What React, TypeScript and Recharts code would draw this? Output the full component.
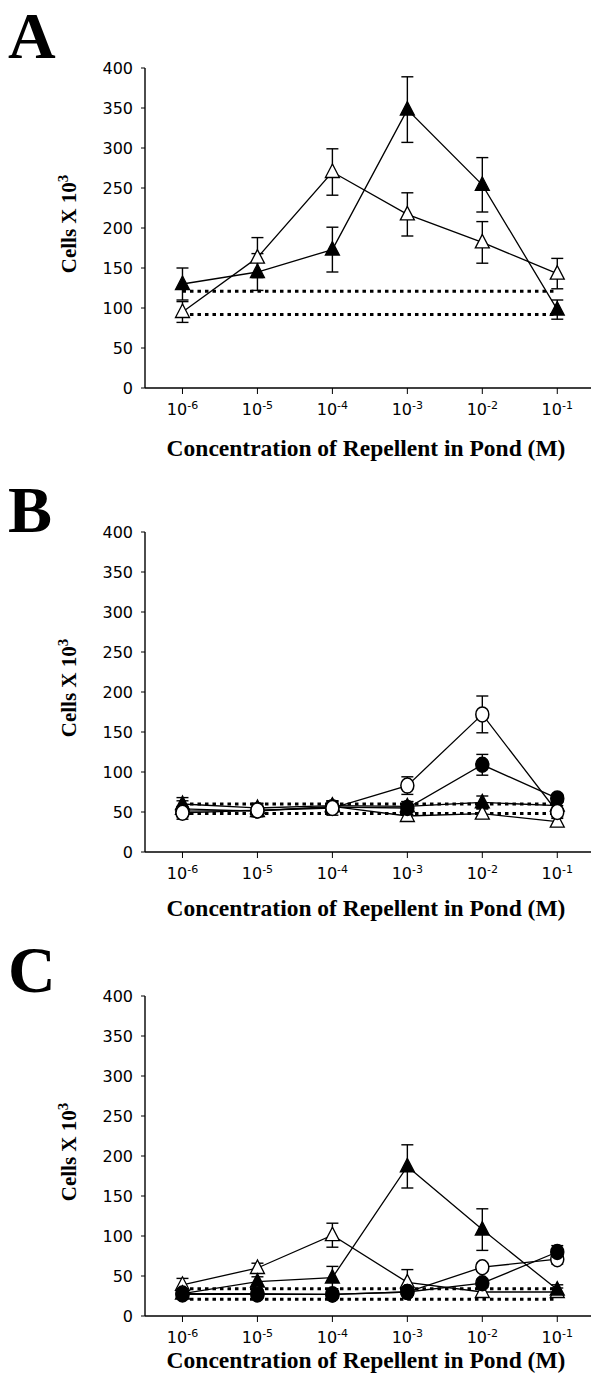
import React from 'react';
import { LineChart, Line, XAxis, YAxis, ErrorBar, ReferenceLine } from 'recharts';

// ---------- data ----------
const exponents = ['-6', '-5', '-4', '-3', '-2', '-1'];
const yTicks = [0, 50, 100, 150, 200, 250, 300, 350, 400];

// Panel A
const aFilledTri = [130, 145, 173, 348, 254, 98];
const aFilledTriErr = [20, 23, 28, 41, 34, 12];
const aOpenTri = [95, 163, 270, 217, 182, 143];
const aOpenTriErr = [13, 25, 29, 27, 26, 19];
const aControls = [121, 92];

// Panel B
const bOpenCircle = [49, 52, 55, 83, 172, 50];
const bOpenCircleErr = [8, 8, 9, 11, 23, 8];
const bFilledCircle = [51, 52, 56, 55, 109, 67];
const bFilledCircleErr = [5, 5, 6, 8, 13, 5];
const bFilledTri = [60, 55, 58, 57, 62, 58];
const bFilledTriErr = [8, 6, 6, 6, 8, 5];
const bOpenTri = [54, 51, 57, 45, 48, 38];
const bOpenTriErr = [10, 6, 6, 6, 6, 6];
const bControls = [60, 48];

// Panel C
const cFilledTri = [28, 43, 48, 187, 108, 33];
const cFilledTriErr = [5, 6, 14, 27, 26, 6];
const cOpenTri = [39, 60, 101, 42, 30, 30];
const cOpenTriErr = [8, 6, 15, 16, 6, 5];
const cOpenCircle = [28, 28, 27, 30, 61, 71];
const cOpenCircleErr = [4, 4, 4, 4, 5, 6];
const cFilledCircle = [27, 27, 27, 30, 41, 80];
const cFilledCircleErr = [3, 3, 3, 3, 5, 8];
const cControls = [34, 21];

// ---------- shapes ----------
type Kind = 'ftri' | 'otri' | 'fcirc' | 'ocirc';

const Marker = (kind: Kind) => (props: any) => {
  const { cx, cy, index } = props;
  const key = `${kind}-${index}`;
  if (cx == null || cy == null) return <g key={key} />;
  if (kind === 'ftri' || kind === 'otri') {
    const pts = `${cx},${cy - 8} ${cx - 7},${cy + 5.5} ${cx + 7},${cy + 5.5}`;
    return (
      <polygon
        key={key}
        points={pts}
        fill={kind === 'ftri' ? '#000' : '#fff'}
        stroke="#000"
        strokeWidth={1.3}
      />
    );
  }
  return (
    <ellipse
      key={key}
      cx={cx}
      cy={cy}
      rx={6.5}
      ry={7.5}
      fill={kind === 'fcirc' ? '#000' : '#fff'}
      stroke="#000"
      strokeWidth={1.5}
    />
  );
};

const sans = 'DejaVu Sans, Arial, sans-serif';
const serif = 'Liberation Serif, Times New Roman, serif';

const XTick = (props: any) => {
  const { x, y, payload } = props;
  const exp = exponents[payload.value - 1];
  return (
    <text x={x} y={y + 19} textAnchor="middle" fontFamily={sans} fontSize={16} fill="#000">
      10
      <tspan dy={-6} fontSize={11}>
        {exp}
      </tspan>
    </text>
  );
};

interface SeriesDef {
  key: string;
  values: number[];
  errs: number[];
  kind: Kind;
}

const W = 591;
const H = 464;
const margin = { top: 68, right: 0, bottom: 0, left: 0 };

function Panel({ series, controls }: { series: SeriesDef[]; controls: number[] }) {
  const rows = exponents.map((_, i) => {
    const r: any = { x: i + 1 };
    series.forEach((s) => {
      r[s.key] = s.values[i];
      r[s.key + 'Err'] = s.errs[i];
    });
    return r;
  });
  return (
    <LineChart width={W} height={H} data={rows} margin={margin}>
      <XAxis
        type="number"
        dataKey="x"
        domain={[0.5, 6.45]}
        ticks={[1, 2, 3, 4, 5, 6]}
        allowDataOverflow
        axisLine={{ stroke: '#000', strokeWidth: 1.4 }}
        tickLine={{ stroke: '#000', strokeWidth: 1 }}
        tickSize={6}
        tick={<XTick />}
        interval={0}
        height={76}
      />
      <YAxis
        type="number"
        domain={[0, 400]}
        ticks={yTicks}
        axisLine={{ stroke: '#000', strokeWidth: 1.4 }}
        tickLine={{ stroke: '#000', strokeWidth: 1 }}
        tickSize={4}
        tickMargin={8}
        interval={0}
        tick={{ fill: '#000', fontSize: 16, fontFamily: sans }}
        width={145}
      />
      {controls.map((c, i) => (
        <ReferenceLine
          key={'ctl' + i}
          segment={[
            { x: 1, y: c },
            { x: 6, y: c },
          ]}
          stroke="#000"
          strokeWidth={3}
          strokeDasharray="3.5 4"
          ifOverflow="visible"
        />
      ))}
      {series.map((s) => (
        <Line
          key={s.key}
          dataKey={s.key}
          stroke="#000"
          strokeWidth={1.3}
          isAnimationActive={false}
          dot={Marker(s.kind)}
          activeDot={false}
        >
          <ErrorBar dataKey={s.key + 'Err'} width={6} stroke="#000" strokeWidth={1.4} direction="y" />
        </Line>
      ))}
    </LineChart>
  );
}

export default function App() {
  const panels = [
    {
      letter: 'A',
      letterY: 58,
      xLabelY: 456,
      series: [
        { key: 'aot', values: aOpenTri, errs: aOpenTriErr, kind: 'otri' as Kind },
        { key: 'aft', values: aFilledTri, errs: aFilledTriErr, kind: 'ftri' as Kind },
      ],
      controls: aControls,
    },
    {
      letter: 'B',
      letterY: 532 - 464,
      xLabelY: 452,
      series: [
        { key: 'bot', values: bOpenTri, errs: bOpenTriErr, kind: 'otri' as Kind },
        { key: 'bft', values: bFilledTri, errs: bFilledTriErr, kind: 'ftri' as Kind },
        { key: 'bfc', values: bFilledCircle, errs: bFilledCircleErr, kind: 'fcirc' as Kind },
        { key: 'boc', values: bOpenCircle, errs: bOpenCircleErr, kind: 'ocirc' as Kind },
      ],
      controls: bControls,
    },
    {
      letter: 'C',
      letterY: 992 - 928,
      xLabelY: 440,
      series: [
        { key: 'cot', values: cOpenTri, errs: cOpenTriErr, kind: 'otri' as Kind },
        { key: 'cft', values: cFilledTri, errs: cFilledTriErr, kind: 'ftri' as Kind },
        { key: 'coc', values: cOpenCircle, errs: cOpenCircleErr, kind: 'ocirc' as Kind },
        { key: 'cfc', values: cFilledCircle, errs: cFilledCircleErr, kind: 'fcirc' as Kind },
      ],
      controls: cControls,
    },
  ];

  return (
    <div
      style={{
        position: 'absolute',
        left: 0,
        top: 0,
        width: 591,
        height: 1385,
        overflow: 'hidden',
        background: '#fff',
      }}
    >
      {panels.map((p, i) => (
        <div key={p.letter} style={{ position: 'absolute', left: 0, top: i * 464, width: W, height: H }}>
          <Panel series={p.series} controls={p.controls} />
          <svg
            width={W}
            height={H}
            style={{ position: 'absolute', left: 0, top: 0, pointerEvents: 'none' }}
          >
            <text x={8} y={p.letterY} fontFamily={serif} fontWeight="bold" fontSize={66} fill="#000">
              {p.letter}
            </text>
            <text
              x={76}
              y={224}
              transform="rotate(-90, 76, 224)"
              textAnchor="middle"
              fontFamily={serif}
              fontWeight="bold"
              fontSize={21}
              fill="#000"
            >
              Cells X 10
              <tspan dy={-8} fontSize={15}>
                3
              </tspan>
            </text>
            <text x={366} y={p.xLabelY} textAnchor="middle" fontFamily={serif} fontWeight="bold" fontSize={23.5} fill="#000">
              Concentration of Repellent in Pond (M)
            </text>
          </svg>
        </div>
      ))}
    </div>
  );
}
